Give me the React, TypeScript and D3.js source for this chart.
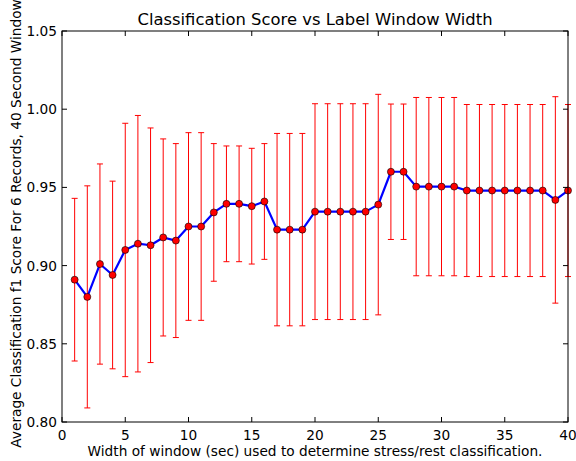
import React, { useEffect, useRef } from "react";
import * as d3 from "d3";

// window widths 1..40 sec
const windows = d3.range(1, 41);
const scores = [
  0.891, 0.880, 0.901, 0.894, 0.910, 0.914, 0.913, 0.918, 0.916, 0.925,
  0.925, 0.934, 0.9395, 0.9395, 0.938, 0.941, 0.923, 0.923, 0.923, 0.9345,
  0.9345, 0.9345, 0.9345, 0.9345, 0.939, 0.960, 0.960, 0.9505, 0.9505, 0.9505,
  0.9505, 0.948, 0.948, 0.948, 0.948, 0.948, 0.948, 0.948, 0.942, 0.948,
];
const errors = [
  0.052, 0.071, 0.064, 0.060, 0.081, 0.082, 0.075, 0.063, 0.062, 0.060,
  0.060, 0.044, 0.037, 0.037, 0.037, 0.037, 0.0615, 0.0615, 0.0615, 0.069,
  0.069, 0.069, 0.069, 0.069, 0.0705, 0.0433, 0.0433, 0.057, 0.057, 0.057,
  0.057, 0.055, 0.055, 0.055, 0.055, 0.055, 0.055, 0.055, 0.066, 0.055,
];
const xTicks = [0, 5, 10, 15, 20, 25, 30, 35, 40];
const yTicks = [0.8, 0.85, 0.9, 0.95, 1.0, 1.05];

const title = "Classification Score vs Label Window Width";
const xLabel = "Width of window (sec) used to determine stress/rest classification.";
const yLabel = "Average Classification f1 Score For 6 Records, 40 Second Window";

export default function App() {
  const ref = useRef<SVGSVGElement>(null);

  useEffect(() => {
    document.body.style.margin = "0";
    const width = 576;
    const height = 461;
    const margin = { top: 31, right: 8, bottom: 39, left: 62 };
    const innerWidth = width - margin.left - margin.right;
    const innerHeight = height - margin.top - margin.bottom;
    const font = "DejaVu Sans, sans-serif";

    const svg = d3.select(ref.current).attr("width", width).attr("height", height);
    svg.selectAll("*").remove();
    svg.append("rect").attr("width", width).attr("height", height).attr("fill", "white");

    const g = svg.append("g").attr("transform", `translate(${margin.left}, ${margin.top})`);
    const xScale = d3.scaleLinear().domain([0, 40]).range([0, innerWidth]);
    const yScale = d3.scaleLinear().domain([0.8, 1.05]).range([innerHeight, 0]);

    const data = windows.map((w, i) => ({ w, s: scores[i], e: errors[i] }));

    // error bars
    const eb = g.append("g").attr("stroke", "#ff0000").attr("stroke-width", 1);
    const cap = 3;
    data.forEach(d => {
      const x = xScale(d.w);
      const y1 = yScale(d.s + d.e);
      const y2 = yScale(d.s - d.e);
      eb.append("line").attr("x1", x).attr("x2", x).attr("y1", y1).attr("y2", y2);
      eb.append("line").attr("x1", x - cap).attr("x2", x + cap).attr("y1", y1).attr("y2", y1);
      eb.append("line").attr("x1", x - cap).attr("x2", x + cap).attr("y1", y2).attr("y2", y2);
    });

    const line = d3.line<{ w: number; s: number }>().x(d => xScale(d.w)).y(d => yScale(d.s));
    g.append("path").datum(data).attr("d", line).attr("fill", "none")
      .attr("stroke", "#0000ff").attr("stroke-width", 2.2).attr("stroke-linejoin", "round");

    g.selectAll("circle.pt").data(data).join("circle").attr("class", "pt")
      .attr("cx", d => xScale(d.w)).attr("cy", d => yScale(d.s)).attr("r", 3.5)
      .attr("fill", "#ff0000").attr("stroke", "#000").attr("stroke-width", 0.6);

    // frame + inward ticks on all sides
    g.append("rect").attr("width", innerWidth).attr("height", innerHeight)
      .attr("fill", "none").attr("stroke", "#000").attr("stroke-width", 1);

    const tl = 5;
    const fs = "13.7px";
    xTicks.forEach(t => {
      const x = xScale(t);
      g.append("line").attr("x1", x).attr("x2", x).attr("y1", innerHeight).attr("y2", innerHeight - tl).attr("stroke", "#000");
      g.append("line").attr("x1", x).attr("x2", x).attr("y1", 0).attr("y2", tl).attr("stroke", "#000");
      g.append("text").text(d3.format("d")(t)).attr("x", x).attr("y", innerHeight + 18)
        .attr("text-anchor", "middle").attr("font-family", font).attr("font-size", fs);
    });
    yTicks.forEach(t => {
      const y = yScale(t);
      g.append("line").attr("x1", 0).attr("x2", tl).attr("y1", y).attr("y2", y).attr("stroke", "#000");
      g.append("line").attr("x1", innerWidth).attr("x2", innerWidth - tl).attr("y1", y).attr("y2", y).attr("stroke", "#000");
      g.append("text").text(d3.format(".2f")(t)).attr("x", -5).attr("y", y + 5)
        .attr("text-anchor", "end").attr("font-family", font).attr("font-size", fs);
    });

    g.append("text").text(title).attr("x", innerWidth / 2).attr("y", -6)
      .attr("text-anchor", "middle").attr("font-family", font).attr("font-size", "16.4px");
    g.append("text").text(xLabel).attr("x", innerWidth / 2).attr("y", innerHeight + 34)
      .attr("text-anchor", "middle").attr("font-family", font).attr("font-size", fs);
    g.append("text").text(yLabel).attr("transform", "rotate(-90)")
      .attr("x", -innerHeight / 2 + 3).attr("y", -41)
      .attr("text-anchor", "middle").attr("font-family", font).attr("font-size", fs);
  }, []);

  return <svg ref={ref}></svg>;
}
